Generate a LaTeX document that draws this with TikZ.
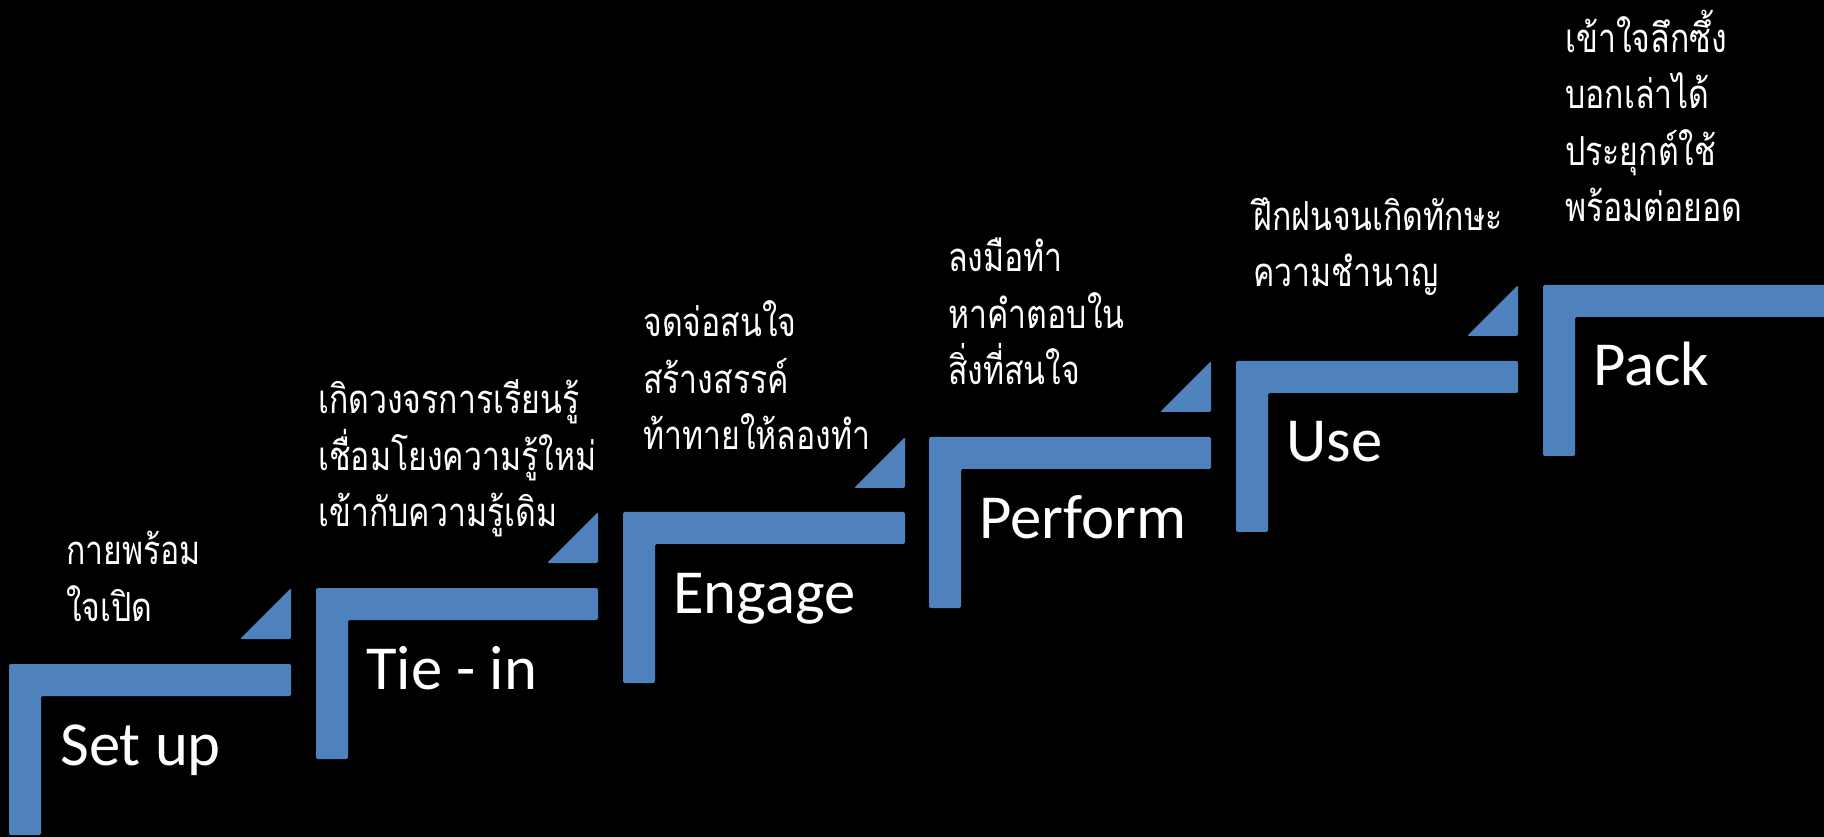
\documentclass[tikz,border=0pt]{standalone}
\usepackage{fontspec}
\usepackage{xcolor}
\usepackage{tikz}
\setmainfont{Carlito}
\newfontfamily\thaifont[Script=Thai,FakeStretch=0.8]{Loma}
\definecolor{stairblue}{RGB}{79,129,189}

\begin{document}
\begin{tikzpicture}[x=0.75pt,y=0.75pt,yscale=-1,xscale=1,
  stair/.style={fill=stairblue,draw=none,rounded corners=1.5pt},
  steplabel/.style={anchor=base west,inner sep=0pt,text=white,font=\fontsize{47}{52}\selectfont},
  thaitext/.style={anchor=base west,inner sep=0pt,text=white,align=left,font=\thaifont\fontsize{30}{42.4}\selectfont}]

\fill[black] (0,0) rectangle (1824,837);
\useasboundingbox (0,0) rectangle (1824,837);


\fill [stair] (9,664) -- (291,664) -- (291,696) -- (41,696) -- (41,835) -- (9,835) -- cycle ;

\fill [stair] (291,588) -- (291,639) -- (240,639) -- cycle ;

\fill [stair] (316,588) -- (598,588) -- (598,620) -- (348,620) -- (348,759) -- (316,759) -- cycle ;

\fill [stair] (598,512) -- (598,563) -- (547,563) -- cycle ;

\fill [stair] (623,512) -- (905,512) -- (905,544) -- (655,544) -- (655,683) -- (623,683) -- cycle ;

\fill [stair] (905,437) -- (905,488) -- (854,488) -- cycle ;

\fill [stair] (929,437) -- (1211,437) -- (1211,469) -- (961,469) -- (961,608) -- (929,608) -- cycle ;

\fill [stair] (1211,361) -- (1211,412) -- (1160,412) -- cycle ;

\fill [stair] (1236,361) -- (1518,361) -- (1518,393) -- (1268,393) -- (1268,532) -- (1236,532) -- cycle ;

\fill [stair] (1518,285) -- (1518,336) -- (1467,336) -- cycle ;

\fill [stair] (1543,285) -- (1834,285) -- (1834,317) -- (1575,317) -- (1575,456) -- (1543,456) -- cycle ;


\node [steplabel] (setup) at (60,765) {Set up};

\node [steplabel] (tiein) at (366,689) {Tie - in};

\node [steplabel] (engage) at (673,613) {Engage};

\node [steplabel] (perform) at (979,538) {Perform};

\node [steplabel] (use) at (1286,462) {Use};

\node [steplabel] (pack) at (1593,386) {Pack};


\node [thaitext] (setupthai) at (66,621) {กายพร้อม\\ใจเปิด};

\node [thaitext] (tieinthai) at (318,527) {เกิดวงจรการเรียนรู้\\เชื่อมโยงความรู้ใหม่\\เข้ากับความรู้เดิม};

\node [thaitext] (engagethai) at (643,450) {จดจ่อสนใจ\\สร้างสรรค์\\ท้าทายให้ลองทำ};

\node [thaitext] (performthai) at (948,385) {ลงมือทำ\\หาคำตอบใน\\สิ่งที่สนใจ};

\node [thaitext] (usethai) at (1253,287) {ฝึกฝนจนเกิดทักษะ\\ความชำนาญ};

\node [thaitext] (packthai) at (1565,222) {เข้าใจลึกซึ้ง\\บอกเล่าได้\\ประยุกต์ใช้\\พร้อมต่อยอด};


\end{tikzpicture}
\end{document}
